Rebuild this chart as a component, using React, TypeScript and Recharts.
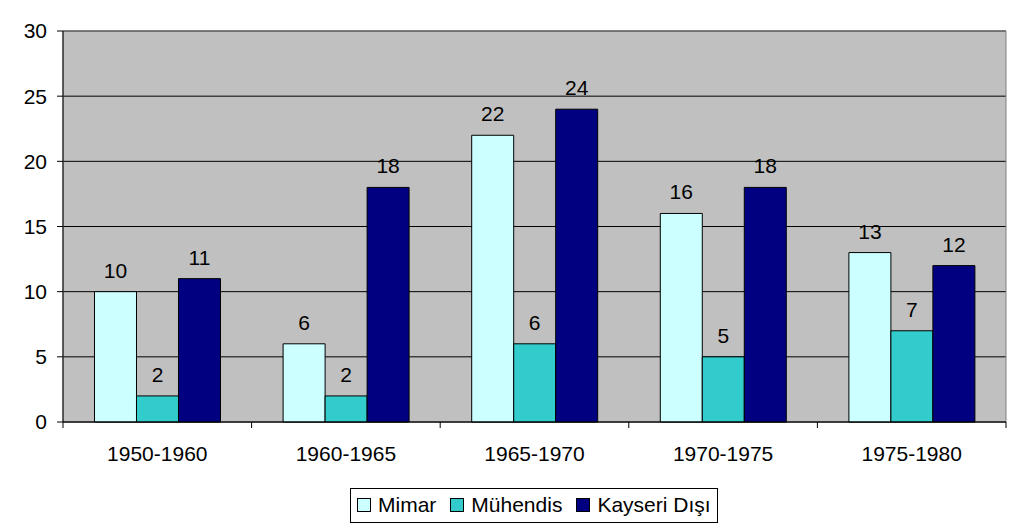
import React from 'react';
import {
  BarChart,
  Bar,
  XAxis,
  YAxis,
  CartesianGrid,
  Legend,
  LabelList,
  ReferenceArea,
} from 'recharts';

const periods = ['1950-1960', '1960-1965', '1965-1970', '1970-1975', '1975-1980'];
const mimar = [10, 6, 22, 16, 13];
const muhendis = [2, 2, 6, 5, 7];
const kayseriDisi = [11, 18, 24, 18, 12];
const yTicks = [0, 5, 10, 15, 20, 25, 30];

const series = [
  { key: 'mimar', name: 'Mimar', color: '#CCFFFF' },
  { key: 'muhendis', name: 'Mühendis', color: '#33CCCC' },
  { key: 'kayseri', name: 'Kayseri Dışı', color: '#000080' },
];

const data = periods.map((period, i) => ({
  period,
  mimar: mimar[i],
  muhendis: muhendis[i],
  kayseri: kayseriDisi[i],
}));

const FONT = '"Liberation Sans", Arial, sans-serif';
const FS = 21;

// kategori sınırlarında tick çizgisi (Excel tarzı)
const CategoryTick = (props: any) => {
  const { x, y, payload, index } = props;
  const half = payload?.offset ?? 0;
  const isLast = index === periods.length - 1;
  return (
    <g>
      <line x1={x - half} x2={x - half} y1={y} y2={y + 6} stroke="#000" />
      {isLast && <line x1={x + half} x2={x + half} y1={y} y2={y + 6} stroke="#000" />}
      <text x={x} y={y + 39} textAnchor="middle" fontSize={FS} fill="#000" fontFamily={FONT}>
        {payload.value}
      </text>
    </g>
  );
};

// legend sırası serilerle aynı kalsın diye payload yerine series kullanılıyor
const LegendBox = () => (
  <div
    style={{
      display: 'inline-flex',
      alignItems: 'center',
      border: '1px solid #000',
      padding: '3px 6px 4px 6px',
      fontFamily: FONT,
      fontSize: FS,
      lineHeight: '26px',
      color: '#000',
      background: '#fff',
      whiteSpace: 'nowrap',
    }}
  >
    {series.map((s, i) => (
      <span key={s.key} style={{ display: 'inline-flex', alignItems: 'center', marginLeft: i === 0 ? 0 : 14 }}>
        <span
          style={{
            display: 'inline-block',
            width: 12,
            height: 12,
            border: '1px solid #000',
            background: s.color,
            marginRight: 7,
          }}
        />
        {s.name}
      </span>
    ))}
  </div>
);

export default function App() {
  return (
    <div style={{ position: 'absolute', left: 0, top: 0, background: '#fff' }}>
      <BarChart
        width={1012}
        height={529}
        data={data}
        margin={{ top: 31, right: 6, left: 0, bottom: 0 }}
        barCategoryGap="16.7%"
        barGap={0}
      >
        <CartesianGrid vertical={false} stroke="#000" fill="#C0C0C0" fillOpacity={1} />
        <ReferenceArea y1={0} y2={30} fill="none" stroke="#808080" strokeWidth={1} />
        <XAxis
          dataKey="period"
          height={107}
          interval={0}
          tickLine={false}
          tickSize={0}
          tickMargin={0}
          axisLine={{ stroke: '#000' }}
          tick={<CategoryTick />}
        />
        <YAxis
          width={63}
          domain={[0, 30]}
          ticks={yTicks}
          interval={0}
          tickSize={6}
          tickMargin={10}
          axisLine={{ stroke: '#000' }}
          tickLine={{ stroke: '#000' }}
          tick={{ fontSize: FS, fill: '#000', fontFamily: FONT }}
        />
        <Legend
          verticalAlign="middle"
          align="center"
          content={<LegendBox />}
          wrapperStyle={{ left: 350, top: 488, width: 'auto', height: 'auto' }}
        />
        {series.map((s) => (
          <Bar
            key={s.key}
            dataKey={s.key}
            name={s.name}
            fill={s.color}
            stroke="#000"
            strokeWidth={1}
            isAnimationActive={false}
          >
            <LabelList
              dataKey={s.key}
              position="top"
              offset={14}
              fontSize={FS}
              fill="#000"
              fontFamily={FONT}
            />
          </Bar>
        ))}
      </BarChart>
    </div>
  );
}
